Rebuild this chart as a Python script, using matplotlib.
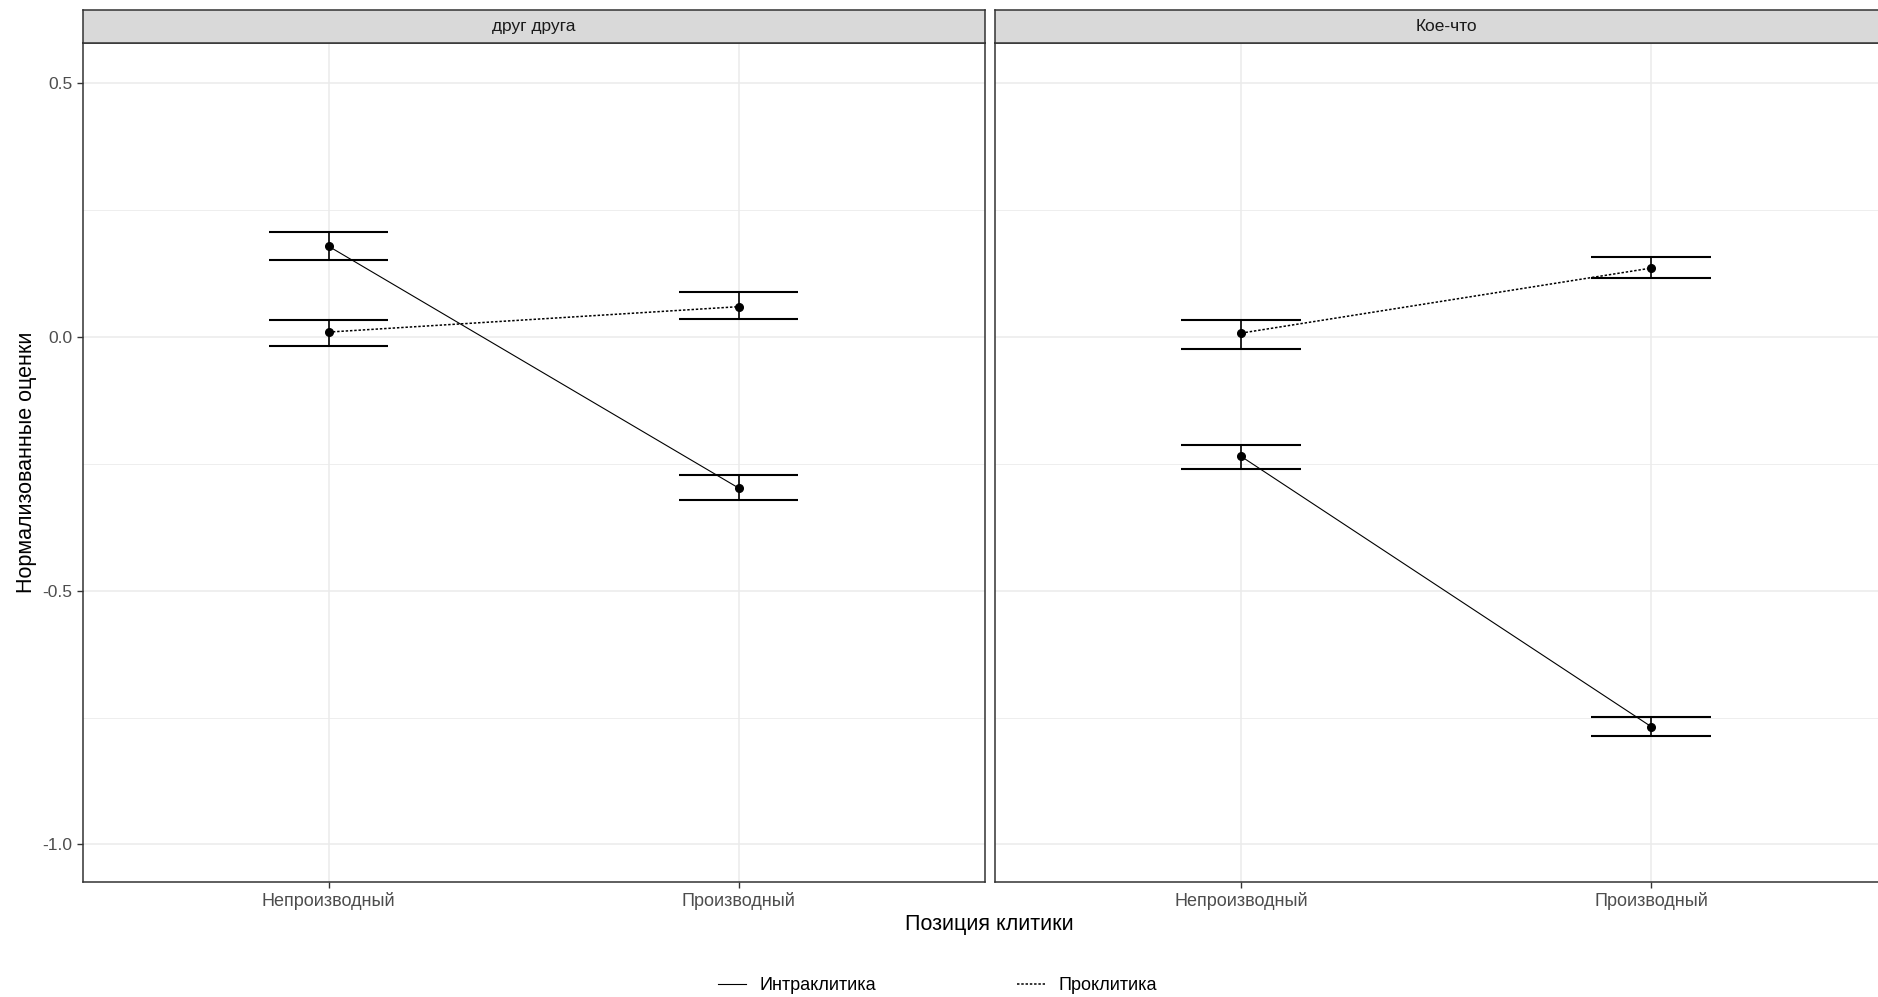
import matplotlib
matplotlib.use("Agg")
import matplotlib.pyplot as plt
from matplotlib.lines import Line2D
import numpy as np

plt.rcParams['font.family'] = ['Liberation Sans Narrow', 'Liberation Sans', 'DejaVu Sans']

panels = ["друг друга", "Кое-что"]
positions = ["Непроизводный", "Производный"]
series = ["Интраклитика", "Проклитика"]

# means and error bar limits per panel, series
intra_mean = [[0.178, -0.298], [-0.236, -0.768]]
intra_low = [[0.151, -0.321], [-0.260, -0.787]]
intra_high = [[0.206, -0.272], [-0.213, -0.749]]
pro_mean = [[0.009, 0.059], [0.007, 0.135]]
pro_low = [[-0.019, 0.035], [-0.024, 0.116]]
pro_high = [[0.033, 0.087], [0.033, 0.156]]

yticks = [0.5, 0.0, -0.5, -1.0]
yminor = [0.25, -0.25, -0.75]

W, H = 1878, 997
fig = plt.figure(figsize=(W / 100, H / 100), dpi=100)

dw, dh = 1568.0, 832.4
def fx(x):
    return x / dw
def fy(y):
    return 1 - y / dh

ax_left = [69, 831]
ax_w = 753
top, bottom = 36, 736
strip_top = 8

grid_c = "#EBEBEB"
border_c = "#333333"
tick_c = "#4D4D4D"
xs = np.arange(1, len(positions) + 1)
cap = 0.146
dot_ls = (0, (1.6, 1.2))

for i, name in enumerate(panels):
    ax = fig.add_axes([fx(ax_left[i]), fy(bottom), ax_w / dw, (bottom - top) / dh])
    ax.set_xlim(0.4, 2.6)
    ax.set_ylim(-1.073, 0.578)
    ax.set_yticks(yticks)
    ax.set_yticks(yminor, minor=True)
    ax.set_xticks(xs)
    ax.set_xticklabels(positions)
    ax.grid(True, which='major', color=grid_c, linewidth=1.1, zorder=0)
    ax.grid(True, which='minor', axis='y', color=grid_c, linewidth=0.6, zorder=0)
    ax.set_axisbelow(True)
    for s in ax.spines.values():
        s.set_color(border_c)
        s.set_linewidth(1.1)
    ax.tick_params(axis='both', which='major', colors=border_c, labelcolor=tick_c,
                   labelsize=13, length=4, width=1)
    ax.tick_params(axis='y', which='minor', length=0)
    ax.tick_params(axis='y', which='major', labelsize=12.5)
    if i == 0:
        ax.set_yticklabels(["0.5", "0.0", "-0.5", "-1.0"])
    else:
        ax.tick_params(axis='y', which='major', length=0, labelleft=False)

    for mean, lo, hi, ls in [(intra_mean[i], intra_low[i], intra_high[i], '-'),
                              (pro_mean[i], pro_low[i], pro_high[i], dot_ls)]:
        ax.plot(xs, mean, color='black', linestyle=ls,
                linewidth=0.8 if ls == '-' else 1.1, zorder=3)
        ax.vlines(xs, lo, hi, color='black', linewidth=1.2, zorder=3)
        ax.hlines(lo, xs - cap, xs + cap, color='black', linewidth=1.5, zorder=3)
        ax.hlines(hi, xs - cap, xs + cap, color='black', linewidth=1.5, zorder=3)
        ax.plot(xs, mean, 'o', color='black', markersize=5.5, zorder=4)

    # strip
    sax = fig.add_axes([fx(ax_left[i]), fy(top), ax_w / dw, (top - strip_top) / dh])
    sax.set_facecolor("#D9D9D9")
    sax.set_xticks([])
    sax.set_yticks([])
    for s in sax.spines.values():
        s.set_color(border_c)
        s.set_linewidth(1.1)
    sax.text(0.5, 0.5, name, ha='center', va='center', fontsize=12.5,
             color='#1A1A1A', transform=sax.transAxes)

fig.text(fx(22), fy(386), "Нормализованные оценки", rotation=90,
         ha='center', va='center', fontsize=15.5, color='black')
fig.text(fx(826), fy(772), "Позиция клитики", ha='center', va='center',
         fontsize=15.5, color='black')

handles = [Line2D([0], [0], color='black', linestyle='-', linewidth=0.8),
           Line2D([0], [0], color='black', linestyle=dot_ls, linewidth=1.1)]
fig.legend(handles, series, loc='center', bbox_to_anchor=(fx(783), fy(823)),
           ncol=2, frameon=False, fontsize=13, handlelength=1.55,
           handletextpad=0.75, columnspacing=7.8)

fig.savefig("out.png", dpi=100)
